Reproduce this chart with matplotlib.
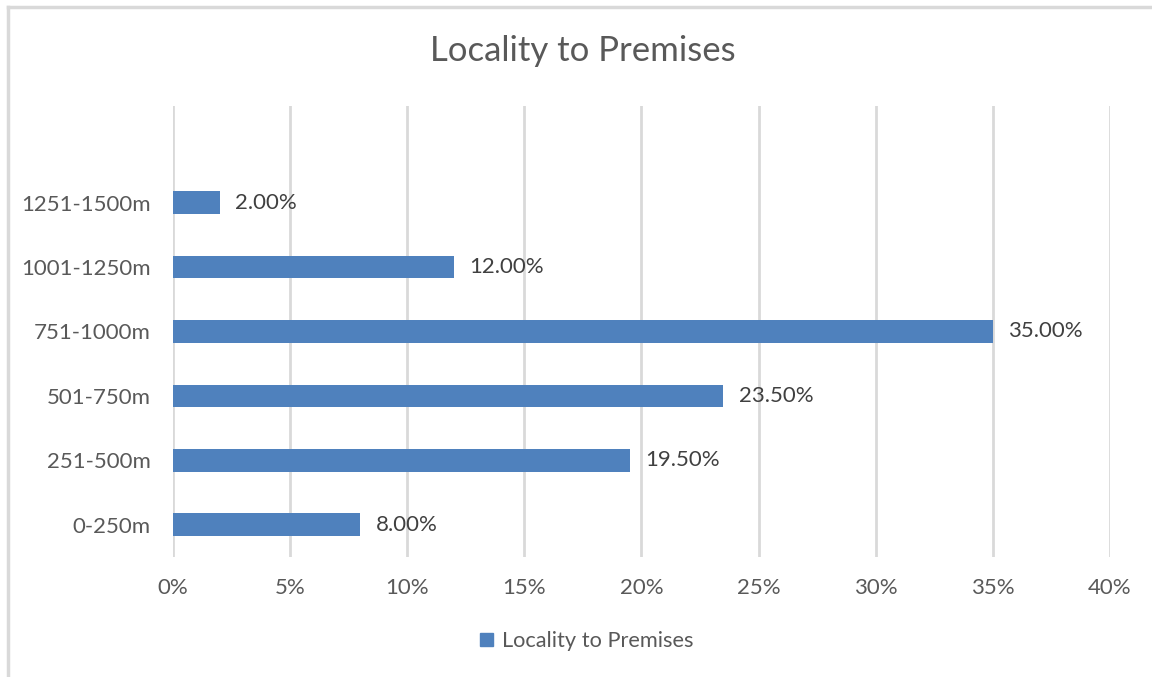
import matplotlib.pyplot as plt
from matplotlib.lines import Line2D
from matplotlib.patches import Patch

# distance bands, bottom to top
bands = ['0-250m', '251-500m', '501-750m', '751-1000m', '1001-1250m', '1251-1500m']
share = [8.0, 19.5, 23.5, 35.0, 12.0, 2.0]
xticks = [0, 5, 10, 15, 20, 25, 30, 35, 40]

bar_col = '#4F81BD'
txt_col = '#595959'
grid_col = '#D9D9D9'

plt.rcParams['font.family'] = ['Lato', 'DejaVu Sans']

fig = plt.figure(figsize=(11.52, 6.77), dpi=100)
ax = fig.add_axes([0.1502, 0.1773, 0.8133, 0.6661])

ypos = list(range(len(bands)))
ax.barh(ypos, share, height=0.35, color=bar_col, zorder=3)

for y, v in zip(ypos, share):
    ax.annotate('{:.2f}%'.format(v), (v, y), xytext=(11, 0), textcoords='offset points',
                va='center', ha='left', fontsize=16, color='#404040')

ax.set_xlim(0, 40)
ax.set_ylim(-0.5, 6.5)
ax.set_xticks(xticks)
ax.set_xticklabels(['{}%'.format(t) for t in xticks], fontsize=16, color=txt_col)
ax.set_yticks(ypos)
ax.set_yticklabels(bands, fontsize=16, color=txt_col)
ax.tick_params(length=0)
ax.tick_params(axis='x', pad=15)
ax.tick_params(axis='y', pad=16)
ax.xaxis.grid(True, color=grid_col, linewidth=2, zorder=0)
for s in ax.spines.values():
    s.set_visible(False)

fig.text(0.506, 0.924, 'Locality to Premises', ha='center', va='center',
         fontsize=25, color=txt_col)

fig.legend(handles=[Patch(color=bar_col, label='Locality to Premises')],
           loc='center', bbox_to_anchor=(0.509, 0.053), frameon=False,
           fontsize=15.7, labelcolor=txt_col, handlelength=0.6, handleheight=0.6,
           handletextpad=0.4)

# chart frame: top and left edges only
fig.add_artist(Line2D([8 / 1152, 1], [1 - 7 / 677, 1 - 7 / 677], color=grid_col, lw=2.5,
                      transform=fig.transFigure))
fig.add_artist(Line2D([8 / 1152, 8 / 1152], [0, 1 - 7 / 677], color=grid_col, lw=2.5,
                      transform=fig.transFigure))

fig.savefig('out.png', dpi=100)
